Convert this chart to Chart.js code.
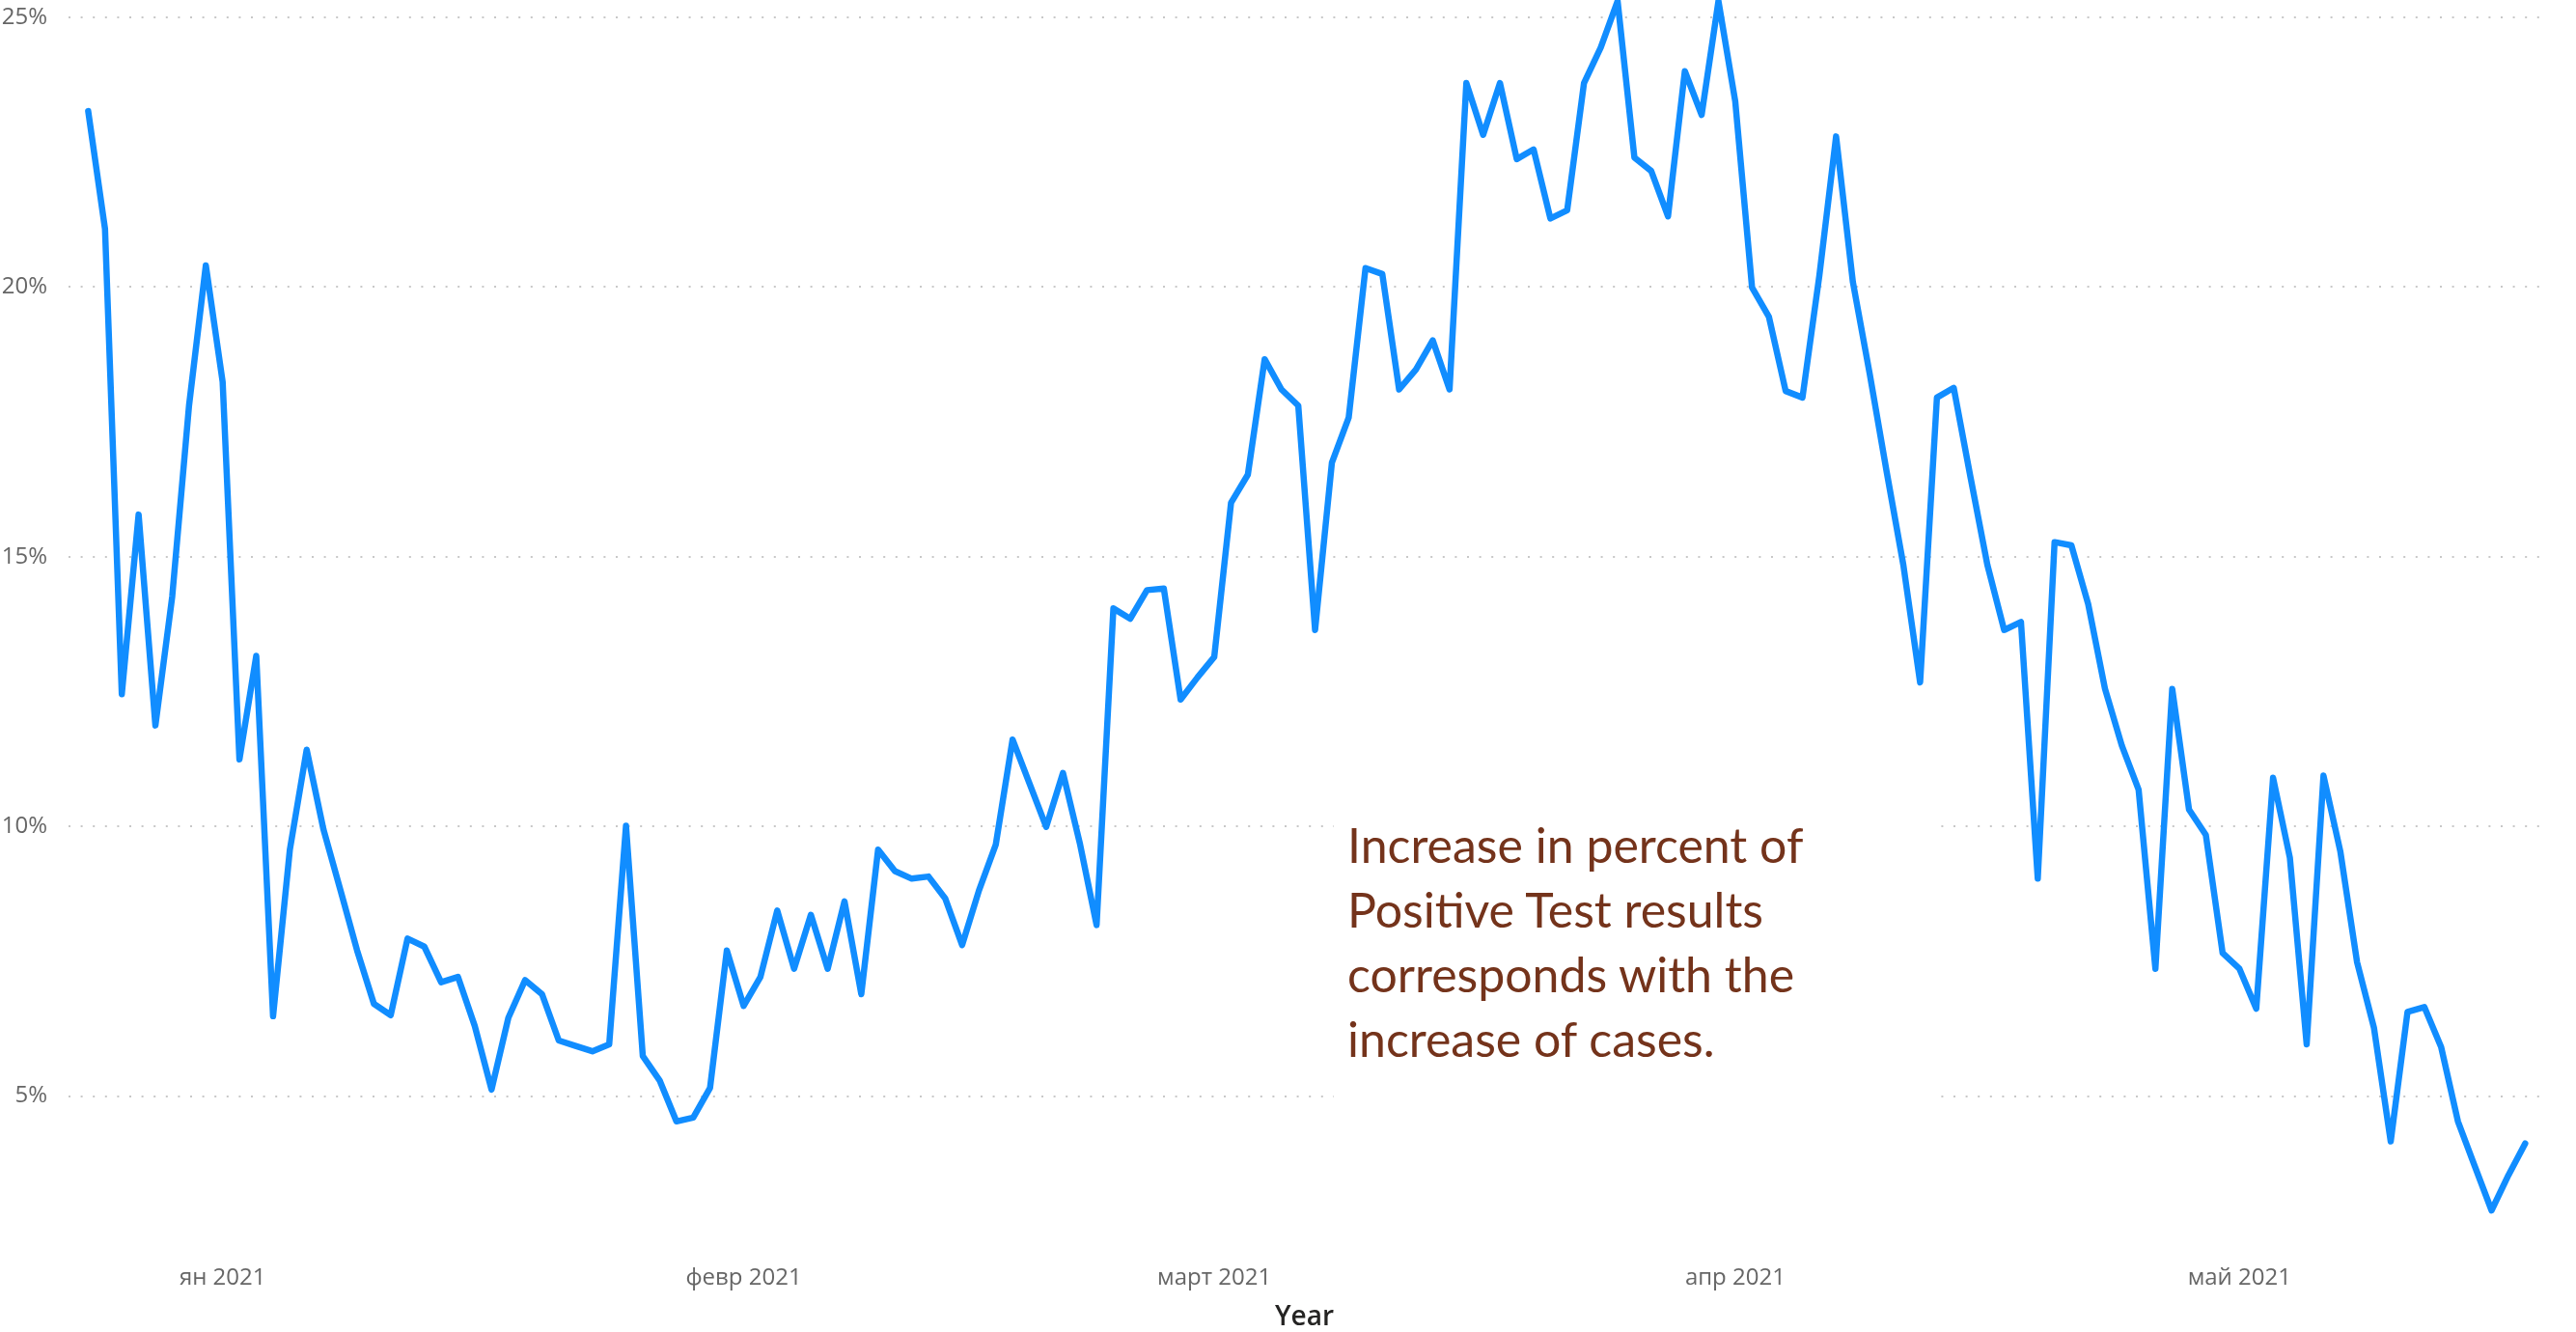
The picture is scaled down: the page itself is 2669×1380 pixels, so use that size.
<!DOCTYPE html>
<html>
<head>
<meta charset="utf-8">
<title>Positive test rate</title>
<script src="https://cdn.jsdelivr.net/npm/chart.js@4/dist/chart.umd.min.js"></script>
<style>
  html, body { margin: 0; padding: 0; background: #ffffff; }
  #wrap { position: relative; width: 2669px; height: 1380px; }
  #chart { position: absolute; left: 0; top: 0; }
  #note {
    position: absolute; left: 1382px; top: 836px; width: 626px; height: 312px;
    box-sizing: border-box; padding: 6px 0 0 14px; background: #ffffff;
    font-family: Lato, "Open Sans", sans-serif; font-size: 50px; line-height: 67px;
    color: #74331b; white-space: nowrap;
  }
</style>
</head>
<body>
<div id="wrap">
  <canvas id="chart" width="2669" height="1380"></canvas>
  <div id="note"></div>
</div>
<script>
// Daily share of positive test results, starting on this date
const startDate = '2020-12-24';
const positiveRate = [
  23.26, 21.08, 12.45, 15.78, 11.87, 14.26, 17.80, 20.40, 18.24, 11.24,
  13.16, 6.48, 9.57, 11.42, 9.94, 8.83, 7.70, 6.71, 6.50, 7.92,
  7.77, 7.11, 7.21, 6.30, 5.12, 6.45, 7.15, 6.89, 6.03, 5.93,
  5.83, 5.96, 10.01, 5.74, 5.29, 4.53, 4.60, 5.15, 7.70, 6.67,
  7.21, 8.44, 7.36, 8.36, 7.36, 8.61, 6.89, 9.57, 9.17, 9.03,
  9.07, 8.66, 7.80, 8.81, 9.66, 11.61, 10.80, 9.99, 10.99, 9.69,
  8.17, 14.04, 13.85, 14.38, 14.41, 12.35, 12.76, 13.14, 16.00, 16.52,
  18.66, 18.10, 17.80, 13.64, 16.74, 17.58, 20.35, 20.24, 18.10, 18.47,
  19.01, 18.10, 23.78, 22.82, 23.78, 22.37, 22.55, 21.27, 21.42, 23.78,
  24.44, 25.30, 22.40, 22.15, 21.31, 24.00, 23.19, 25.30, 23.44, 19.99,
  19.45, 18.07, 17.95, 20.20, 22.79, 20.09, 18.39, 16.59, 14.85, 12.67,
  17.95, 18.13, 16.47, 14.85, 13.64, 13.79, 9.03, 15.27, 15.21, 14.12,
  12.55, 11.50, 10.68, 7.36, 12.55, 10.31, 9.84, 7.65, 7.36, 6.62,
  10.90, 9.42, 5.96, 10.94, 9.54, 7.48, 6.27, 4.16, 6.56, 6.65,
  5.91, 4.53, 3.70, 2.88, 3.53, 4.12
];

// Month ticks on the date axis
const monthTickDates = ['2021-01-01', '2021-02-01', '2021-03-01', '2021-04-01', '2021-05-01'];
const monthTickLabels = ['ян 2021', 'февр 2021', 'март 2021', 'апр 2021', 'май 2021'];

// Percent ticks on the value axis
const percentTicks = [5, 10, 15, 20, 25];

const axisTitle = 'Year';
const noteLines = [
  'Increase in percent of',
  'Positive Test results',
  'corresponds with the',
  'increase of cases.'
];

const DAY_MS = 86400000;
const dayOffset = d => Math.round((Date.parse(d) - Date.parse(startDate)) / DAY_MS);
const monthOffsets = monthTickDates.map(dayOffset);
const points = positiveRate.map((v, i) => ({ x: i, y: v }));

const tickFont = { family: '"Open Sans", sans-serif', size: 24 };

new Chart(document.getElementById('chart'), {
  type: 'line',
  data: {
    datasets: [{
      data: points,
      borderColor: '#118DFF',
      borderWidth: 6.5,
      pointRadius: 0,
      tension: 0,
      borderJoinStyle: 'round',
      borderCapStyle: 'round'
    }]
  },
  options: {
    responsive: false,
    animation: false,
    layout: { padding: { left: 0, right: 37, top: 0, bottom: 0 } },
    plugins: { legend: { display: false }, tooltip: { enabled: false } },
    scales: {
      x: {
        type: 'linear',
        min: -1.17,
        max: 145.9,
        afterBuildTicks: s => { s.ticks = monthOffsets.map(v => ({ value: v })); },
        afterFit: s => { s.height = 112; s.paddingLeft = 0; s.paddingRight = 0; },
        ticks: {
          callback: v => monthTickLabels[monthOffsets.indexOf(v)],
          autoSkip: false, maxRotation: 0, padding: 42,
          font: tickFont, color: '#666666'
        },
        grid: { display: false, drawTicks: false },
        border: { display: false },
        title: {
          display: true, text: axisTitle, color: '#252423',
          font: { family: '"Open Sans", sans-serif', size: 28, weight: '600' },
          padding: { top: 9, bottom: -2 }
        }
      },
      y: {
        min: 2.63,
        max: 25.32,
        afterBuildTicks: s => { s.ticks = percentTicks.map(v => ({ value: v })); },
        afterFit: s => { s.width = 71; s.paddingTop = 0; s.paddingBottom = 0; },
        ticks: {
          callback: v => v + '%',
          padding: 22, font: tickFont, color: '#666666'
        },
        grid: { color: '#c8c8c8', lineWidth: 2, drawTicks: false },
        border: { display: false, dash: [2, 10.6] }
      }
    }
  }
});

document.getElementById('note').innerHTML = noteLines.join('<br>');
</script>
</body>
</html>
